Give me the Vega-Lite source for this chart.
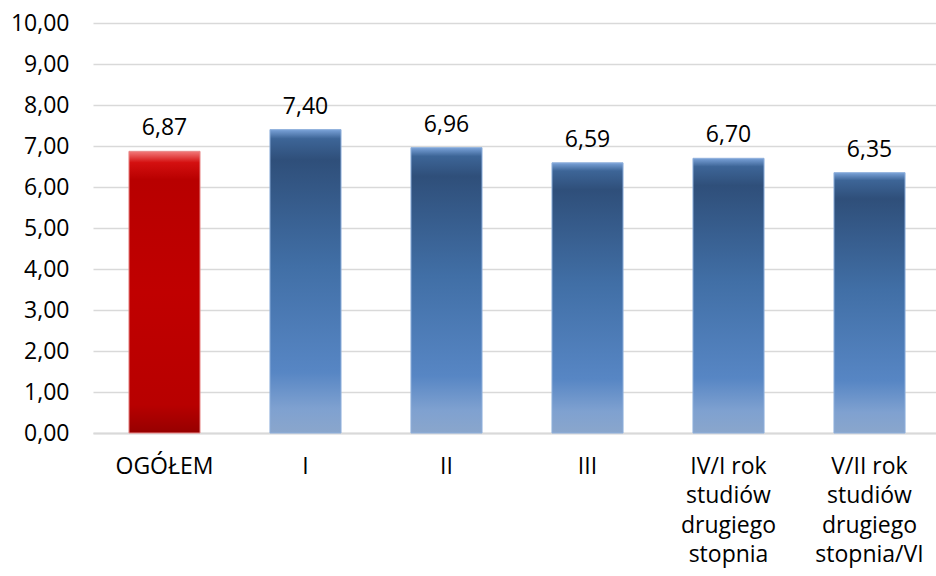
{
  "$schema": "https://vega.github.io/schema/vega-lite/v6.json",
  "autosize": "none",
  "width": 848,
  "height": 410,
  "padding": {"left": 93, "top": 23, "right": 0, "bottom": 143},
  "background": "white",
  "config": {
    "view": {"stroke": null},
    "font": "Open Sans",
    "locale": {"number": {"decimal": ",", "thousands": " ", "grouping": [3], "currency": ["", " zł"]}}
  },
  "data": {
    "values": [
      {"kategoria": "OGÓŁEM", "wartosc": 6.87, "grupa": "ogolem"},
      {"kategoria": "I", "wartosc": 7.40, "grupa": "rok"},
      {"kategoria": "II", "wartosc": 6.96, "grupa": "rok"},
      {"kategoria": "III", "wartosc": 6.59, "grupa": "rok"},
      {"kategoria": "IV/I rok studiów drugiego stopnia", "wartosc": 6.70, "grupa": "rok"},
      {"kategoria": "V/II rok studiów drugiego stopnia/VI", "wartosc": 6.35, "grupa": "rok"}
    ]
  },
  "encoding": {
    "x": {
      "field": "kategoria", "type": "nominal", "sort": null,
      "scale": {"paddingInner": 0.496, "paddingOuter": 0.255},
      "axis": {
        "title": null, "labelAngle": 0, "ticks": false,
        "domainColor": "#d9d9d9", "domainWidth": 2,
        "labelFontSize": 23, "labelColor": "#000000", "labelPadding": 22,
        "labelLineHeight": 29.5, "labelBaseline": "top",
        "labelExpr": "datum.label == 'IV/I rok studiów drugiego stopnia' ? ['IV/I rok','studiów','drugiego','stopnia'] : datum.label == 'V/II rok studiów drugiego stopnia/VI' ? ['V/II rok','studiów','drugiego','stopnia/VI'] : datum.label"
      }
    },
    "y": {
      "field": "wartosc", "type": "quantitative",
      "scale": {"domain": [0, 10], "nice": false},
      "axis": {
        "title": null, "values": [0,1,2,3,4,5,6,7,8,9,10], "format": ".2f",
        "domain": false, "ticks": false, "gridColor": "#d9d9d9", "gridWidth": 1.5,
        "labelFontSize": 23, "labelColor": "#000000", "labelPadding": 24
      }
    }
  },
  "layer": [
    {
      "mark": {"type": "bar", "strokeWidth": 1},
      "encoding": {
        "fill": {
          "condition": {
            "test": "datum.grupa === 'ogolem'",
            "value": {"gradient": "linear", "x1": 0, "y1": 0, "x2": 0, "y2": 1,
              "stops": [
                {"offset": 0, "color": "#f27a7a"},
                {"offset": 0.04, "color": "#d41010"},
                {"offset": 0.1, "color": "#b80000"},
                {"offset": 0.5, "color": "#c00000"},
                {"offset": 0.9, "color": "#b80000"},
                {"offset": 1, "color": "#960000"}
              ]}
          },
          "value": {"gradient": "linear", "x1": 0, "y1": 0, "x2": 0, "y2": 1,
            "stops": [
              {"offset": 0, "color": "#7aa2d8"},
              {"offset": 0.03, "color": "#3d6597"},
              {"offset": 0.1, "color": "#2f4f7a"},
              {"offset": 0.45, "color": "#416fa6"},
              {"offset": 0.8, "color": "#5786c4"},
              {"offset": 0.92, "color": "#7fa1d0"},
              {"offset": 1, "color": "#8aa6cc"}
            ]}
        },
        "stroke": {
          "condition": {"test": "datum.grupa === 'ogolem'", "value": "#e88a8a"},
          "value": "#8fb0dc"
        }
      }
    },
    {
      "mark": {"type": "text", "baseline": "bottom", "dy": -11, "fontSize": 23, "color": "#000000"},
      "encoding": {
        "text": {"field": "wartosc", "type": "quantitative", "format": ".2f"}
      }
    }
  ]
}
